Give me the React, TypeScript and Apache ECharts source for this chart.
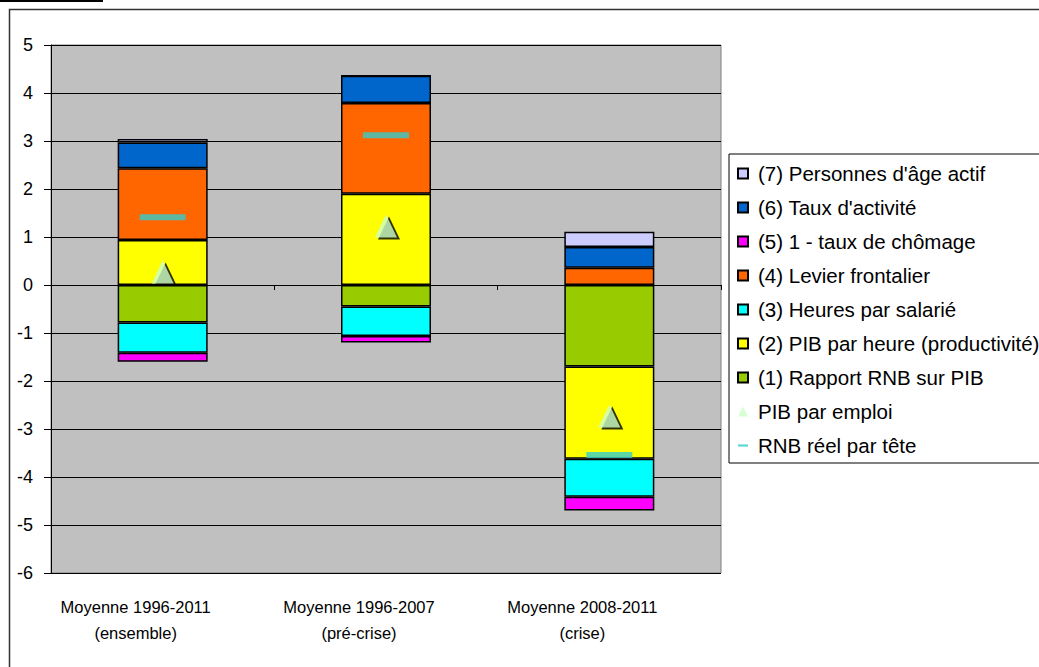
import React, { useEffect, useRef } from "react";
import * as echarts from "echarts";

const categories = [
  "Moyenne 1996-2011\n(ensemble)",
  "Moyenne 1996-2007\n(pré-crise)",
  "Moyenne 2008-2011\n(crise)",
];
const rapportRnbPib = [-0.78, -0.45, -1.7];
const pibParHeure = [0.94, 1.9, -1.92];
const heuresParSalarie = [-0.63, -0.61, -0.79];
const levierFrontalier = [1.49, 1.89, 0.36];
const unMoinsChomage = [-0.19, -0.14, -0.29];
const tauxActivite = [0.54, 0.57, 0.43];
const personnesAgeActif = [0.07, 0, 0.32];
const pibParEmploi = [0.27, 1.23, -2.73];
const rnbReelParTete = [1.41, 3.12, -3.54];
const yTicks = { min: -6, max: 5, interval: 1 };

const FONT = "'Liberation Sans', Arial, sans-serif";

const barNames = [
  "(1) Rapport RNB sur PIB",
  "(2) PIB par heure (productivité)",
  "(3) Heures par salarié",
  "(4) Levier frontalier",
  "(5) 1 - taux de chômage",
  "(6) Taux d'activité",
  "(7) Personnes d'âge actif",
];
const barData = [
  rapportRnbPib,
  pibParHeure,
  heuresParSalarie,
  levierFrontalier,
  unMoinsChomage,
  tauxActivite,
  personnesAgeActif,
];
const barColors = ["#99CC00", "#FFFF00", "#00FFFF", "#FF6600", "#FF00FF", "#0066CC", "#CCCCFF"];

export default function App() {
  const ref = useRef<HTMLDivElement>(null);
  useEffect(() => {
    if (!ref.current) return;
    const chart = echarts.init(ref.current, undefined, { renderer: "svg" });
    const bars = barNames.map((name, i) => ({
      name,
      type: "bar",
      stack: "total",
      barWidth: 90,
      data: barData[i],
      itemStyle: { color: barColors[i], borderColor: "#000", borderWidth: 1.5 },
      xAxisIndex: 0,
    }));
    chart.setOption({
      animation: false,
      backgroundColor: "#fff",
      grid: {
        left: 51,
        top: 45,
        right: 318,
        bottom: 94,
        show: true,
        backgroundColor: "#C0C0C0",
        borderColor: "#808080",
        borderWidth: 1,
      },
      xAxis: [
        {
          type: "category",
          data: categories,
          position: "bottom",
          axisLine: { show: false, onZero: false },
          axisTick: { show: false },
          axisLabel: {
            fontSize: 16.5,
            fontFamily: FONT,
            color: "#000",
            lineHeight: 26,
            margin: 21,
            padding: [0, 54, 0, 0],
          },
          splitLine: { show: false },
        },
        {
          type: "category",
          data: categories,
          position: "bottom",
          axisLine: { show: true, onZero: true, lineStyle: { color: "#000", width: 1 } },
          axisTick: { show: true, length: 5, lineStyle: { color: "#000" } },
          axisLabel: { show: false },
          splitLine: { show: false },
        },
      ],
      yAxis: {
        type: "value",
        min: yTicks.min,
        max: yTicks.max,
        interval: yTicks.interval,
        axisLine: { show: true, lineStyle: { color: "#000", width: 1 } },
        axisTick: { show: true, length: 7, lineStyle: { color: "#000" } },
        axisLabel: { fontSize: 18, fontFamily: FONT, color: "#000", margin: 18 },
        splitLine: { show: true, lineStyle: { color: "#000", width: 1 } },
      },
      legend: {
        orient: "vertical",
        left: 729,
        top: 154,
        padding: [9, 40, 7, 8],
        itemWidth: 10,
        itemHeight: 10,
        itemGap: 13,
        borderColor: "#000",
        borderWidth: 1,
        backgroundColor: "#fff",
        textStyle: { fontSize: 20.5, fontFamily: FONT, color: "#000", lineHeight: 20, padding: [0, 0, 0, 5] },
        data: [
          ...barNames.slice().reverse().map((n) => ({ name: n, icon: "rect" })),
          { name: "PIB par emploi", icon: "triangle" },
          { name: "RNB réel par tête", icon: "path://M0 0H14V3H0Z" },
        ],
      },
      graphic: [
        { type: "rect", shape: { x: 0, y: 0, width: 103, height: 2 }, style: { fill: "#000" } },
        {
          type: "rect",
          shape: { x: 9.5, y: 9.5, width: 1100, height: 700 },
          style: { fill: "none", stroke: "#333", lineWidth: 1.5 },
          silent: true,
        },
      ],
      series: [
        ...bars,
        {
          name: "shadow",
          type: "scatter",
          symbol: "triangle",
          symbolSize: [22, 23],
          symbolOffset: [3, 2],
          data: pibParEmploi,
          itemStyle: { color: "#000" },
          z: 3,
        },
        {
          name: "PIB par emploi",
          type: "scatter",
          symbol: "triangle",
          symbolSize: [22, 23],
          data: pibParEmploi,
          itemStyle: { color: "#CCFFCC" },
          z: 4,
        },
        {
          name: "RNB réel par tête",
          type: "scatter",
          symbol: "rect",
          symbolSize: [46, 6],
          data: rnbReelParTete,
          itemStyle: { color: "#33CCCC" },
          z: 4,
        },
      ],
    });
    return () => chart.dispose();
  }, []);
  return (
    <div
      ref={ref}
      style={{ position: "fixed", left: 0, top: 0, width: 1039, height: 667, background: "#fff" }}
    />
  );
}
